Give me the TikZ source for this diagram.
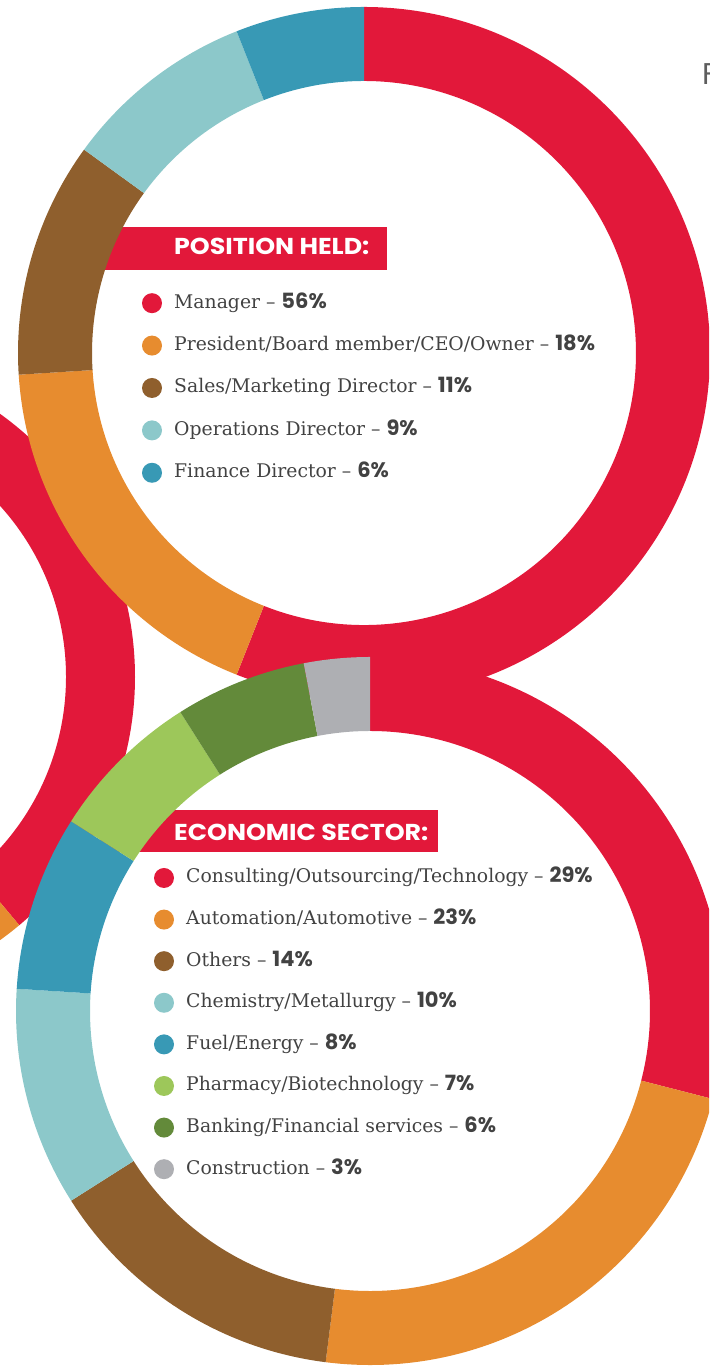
\documentclass[tikz,border=0pt]{standalone}
\usepackage{fontspec}
\setmainfont{DejaVu Serif}
\newfontfamily\headfont{Poppins}[FakeStretch=1.1]
\newfontfamily\pctfont{Poppins}
\definecolor{cRed}{HTML}{E2183A}
\definecolor{cOrange}{HTML}{E78C2F}
\definecolor{cBrown}{HTML}{8F5F2D}
\definecolor{cLBlue}{HTML}{8CC8CA}
\definecolor{cBlue}{HTML}{3899B5}
\definecolor{cLGreen}{HTML}{9DC75A}
\definecolor{cDGreen}{HTML}{638A3A}
\definecolor{cGray}{HTML}{AEAFB3}
\definecolor{cText}{HTML}{424242}
\newcommand\ringseg[6]{\fill[#6,shift={(#1)}] (#2:#4pt) arc[start angle=#2,end angle=#3,radius=#4pt] -- (#3:#5pt) arc[start angle=#3,end angle=#2,radius=#5pt] -- cycle;}
\newcommand\legdot[3]{\coordinate (#1) at (#2); \fill[#3] (#1) circle[radius=10pt];}
\tikzset{
  lab/.style={anchor=base west,inner sep=0pt,text=cText,font=\fontsize{18.8}{19}\selectfont},
  banner/.style={fill=cRed},
  head/.style={anchor=base west,inner sep=0pt,text=white,font=\headfont\bfseries\fontsize{23}{23}\selectfont},
}
\newcommand\pct[1]{{\pctfont\bfseries\fontsize{21}{21}\selectfont #1}}
\begin{document}
\begin{tikzpicture}[x=1pt,y=1pt]
\useasboundingbox (0,0) rectangle (709,1367);
\clip (0,0) rectangle (709,1367);
% left ring (behind)
\coordinate (cL) at (-189,690);
\ringseg{cL}{90}{-50}{324}{255}{cRed}
\ringseg{cL}{-50}{-120}{324}{255}{cOrange}
% banners
\fill[banner] (60,1097) rectangle (387,1140);
\fill[banner] (100,515) rectangle (438,557);
% top donut
\coordinate (cT) at (364,1014);
\ringseg{cT}{90}{-111.6}{346}{272}{cRed}
\ringseg{cT}{-111.6}{-176.4}{346}{272}{cOrange}
\ringseg{cT}{-176.4}{-216}{346}{272}{cBrown}
\ringseg{cT}{-216}{-248.4}{346}{272}{cLBlue}
\ringseg{cT}{-248.4}{-270}{346}{272}{cBlue}
% bottom donut
\coordinate (cB) at (370,356);
\ringseg{cB}{90}{-14.4}{354}{280}{cRed}
\ringseg{cB}{-14.4}{-97.2}{354}{280}{cOrange}
\ringseg{cB}{-97.2}{-147.6}{354}{280}{cBrown}
\ringseg{cB}{-147.6}{-183.6}{354}{280}{cLBlue}
\ringseg{cB}{-183.6}{-212.4}{354}{280}{cBlue}
\ringseg{cB}{-212.4}{-237.6}{354}{280}{cLGreen}
\ringseg{cB}{-237.6}{-259.2}{354}{280}{cDGreen}
\ringseg{cB}{-259.2}{-270}{354}{280}{cGray}
% headings
\node[head] (h1) at (174,1112) {POSITION HELD:};
\node[head] (h2) at (174,526) {ECONOMIC SECTOR:};
% top legend
\legdot{t1d}{152,1063.8}{cRed}
\node[lab] (t1) at (174,1058.8) {Manager – \pct{56\%}};
\legdot{t2d}{152,1021.4}{cOrange}
\node[lab] (t2) at (174,1016.4) {President/Board member/CEO/Owner – \pct{18\%}};
\legdot{t3d}{152,979.0}{cBrown}
\node[lab] (t3) at (174,974.0) {Sales/Marketing Director – \pct{11\%}};
\legdot{t4d}{152,936.6}{cLBlue}
\node[lab] (t4) at (174,931.6) {Operations Director – \pct{9\%}};
\legdot{t5d}{152,894.2}{cBlue}
\node[lab] (t5) at (174,889.2) {Finance Director – \pct{6\%}};
% bottom legend
\legdot{b1d}{164,489.0}{cRed}
\node[lab] (b1) at (186,484.0) {Consulting/Outsourcing/Technology – \pct{29\%}};
\legdot{b2d}{164,447.4}{cOrange}
\node[lab] (b2) at (186,442.4) {Automation/Automotive – \pct{23\%}};
\legdot{b3d}{164,405.8}{cBrown}
\node[lab] (b3) at (186,400.8) {Others – \pct{14\%}};
\legdot{b4d}{164,364.2}{cLBlue}
\node[lab] (b4) at (186,359.2) {Chemistry/Metallurgy – \pct{10\%}};
\legdot{b5d}{164,322.6}{cBlue}
\node[lab] (b5) at (186,317.6) {Fuel/Energy – \pct{8\%}};
\legdot{b6d}{164,281.0}{cLGreen}
\node[lab] (b6) at (186,276.0) {Pharmacy/Biotechnology – \pct{7\%}};
\legdot{b7d}{164,239.4}{cDGreen}
\node[lab] (b7) at (186,234.4) {Banking/Financial services – \pct{6\%}};
\legdot{b8d}{164,197.8}{cGray}
\node[lab] (b8) at (186,192.8) {Construction – \pct{3\%}};
% cut title letter at right edge
\node[anchor=base west,inner sep=0pt,text=cText!85,font=\pctfont\fontsize{30}{30}\selectfont] (ttl) at (702,1282) {F};
\end{tikzpicture}
\end{document}
